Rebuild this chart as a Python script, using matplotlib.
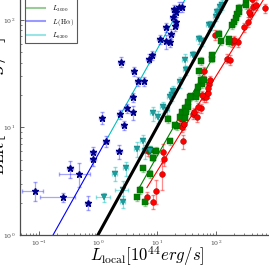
import numpy as np
import matplotlib.pyplot as plt

plt.rcParams['mathtext.fontset'] = 'cm'
plt.rcParams['font.family'] = 'serif'
plt.rcParams['font.serif'] = ['DejaVu Serif']

# log10 luminosities (1e44 erg/s)
# stars: L(Halpha)
star_lx = [-1.07, -0.59, -0.47, -0.32, -0.17, -0.08, -0.08, 0.14, 0.36, 0.07, 0.39, 0.37, 0.44,
           0.49, 0.59, 0.59, 0.61, 0.68, 0.78, 0.86, 0.92, 1.05, 1.15, 1.22, 1.15, 1.24, 1.27,
           1.32, 1.31, 1.29, 1.32, 1.37, 1.42]
star_ly = [0.41, 0.35, 0.62, 0.57, 0.30, 0.71, 0.77, 0.87, 0.78, 1.09, 1.61, 1.12, 1.02,
           1.18, 1.28, 1.14, 1.52, 1.43, 1.43, 1.64, 1.67, 1.82, 1.80, 1.79, 1.93, 1.87, 2.03,
           1.98, 1.94, 2.10, 2.07, 2.12, 2.12]
star_xe = [0.40, 0.60, 0.12, 0.55, 0.10, 0.12, 0.10, 0.10, 0.10, 0.10, 0.12, 0.10, 0.10,
           0.10, 0.10, 0.10, 0.10, 0.10, 0.10, 0.10, 0.10, 0.10, 0.10, 0.10, 0.10, 0.10, 0.10,
           0.10, 0.10, 0.10, 0.10, 0.10, 0.10]
star_ye = [0.20, 0.10, 0.18, 0.25, 0.15, 0.15, 0.12, 0.12, 0.15, 0.12, 0.10, 0.10, 0.10,
           0.10, 0.10, 0.15, 0.10, 0.10, 0.10, 0.10, 0.10, 0.10, 0.15, 0.10, 0.10, 0.10, 0.10,
           0.10, 0.10, 0.10, 0.10, 0.10, 0.10]

# triangles: L6200
tri_lx = [0.10, 0.29, 0.47, 0.42, 0.42, 0.76, 0.80, 0.88, 0.66, 0.93, 1.02, 1.10, 1.17, 1.22,
          1.25, 1.27, 1.39, 1.47, 1.61, 1.71, 1.76, 1.49, 1.88, 1.92, 2.00, 2.02, 2.07, 2.10]
tri_ly = [0.35, 0.57, 0.62, 0.42, 0.31, 0.87, 0.78, 0.78, 0.80, 1.13, 1.10, 1.19, 1.16, 1.28,
          1.30, 1.34, 1.42, 1.63, 1.67, 1.82, 1.80, 1.53, 1.95, 1.95, 2.03, 2.07, 2.12, 2.14]
tri_xe = [0.25, 0.10, 0.10, 0.25, 0.10, 0.10, 0.10, 0.10, 0.10, 0.10, 0.10, 0.10, 0.10, 0.10,
          0.10, 0.10, 0.10, 0.10, 0.10, 0.10, 0.10, 0.10, 0.10, 0.10, 0.10, 0.10, 0.10, 0.10]
tri_ye = [0.10, 0.15, 0.15, 0.20, 0.12, 0.15, 0.15, 0.12, 0.15, 0.15, 0.12, 0.12, 0.12, 0.12,
          0.12, 0.12, 0.12, 0.12, 0.10, 0.10, 0.10, 0.10, 0.10, 0.10, 0.10, 0.10, 0.10, 0.10]

# squares: L3000
sq_lx = [0.66, 0.71, 0.80, 0.76, 0.88, 0.93, 0.98, 0.88, 1.22, 1.19, 1.34, 1.39, 1.42, 1.31,
         1.47, 1.47, 1.53, 1.53, 1.49, 1.58, 1.66, 1.68, 1.56, 1.76, 1.75, 1.80, 1.69, 1.71,
         1.75, 1.93, 1.93, 2.05, 2.08, 2.22, 2.22, 2.27, 2.31, 2.34, 2.36, 2.39, 2.39, 2.51, 2.51]
sq_ly = [0.35, 0.42, 0.31, 0.62, 0.57, 0.72, 0.78, 0.79, 0.87, 1.08, 1.01, 1.10, 1.14, 1.02,
         1.09, 1.18, 1.19, 1.24, 1.14, 1.29, 1.28, 1.32, 1.28, 1.40, 1.44, 1.44, 1.38, 1.52,
         1.62, 1.64, 1.67, 1.87, 1.80, 1.79, 1.82, 1.95, 1.98, 2.02, 2.05, 2.07, 2.11, 2.14, 2.19]

# circles: L1400
circ_lx = [0.83, 0.93, 0.98, 1.08, 1.10, 1.12, 1.44, 1.42, 1.39, 1.44, 1.42, 1.46, 1.61, 1.68,
           1.63, 1.75, 1.69, 1.80, 1.83, 1.86, 1.76, 1.88, 1.86, 1.90, 1.80, 1.98, 2.19, 2.24,
           2.27, 2.37, 2.31, 2.47, 2.54, 2.58, 2.56, 2.63, 2.83, 2.68, 2.61, 0.85]
circ_ly = [0.35, 0.31, 0.41, 0.57, 0.77, 0.71, 0.87, 1.08, 1.09, 1.02, 1.00, 1.03, 1.12, 1.10,
           1.14, 1.18, 1.19, 1.28, 1.28, 1.32, 1.30, 1.40, 1.37, 1.44, 1.52, 1.86, 1.64, 1.63,
           1.79, 1.79, 1.81, 1.93, 1.98, 2.05, 2.07, 2.12, 2.11, 2.14, 2.19, 0.78]
circ_ye = [0.12, 0.15, 0.25, 0.30, 0.20, 0.15, 0.15, 0.10, 0.10, 0.10, 0.10, 0.10, 0.10, 0.10,
           0.10, 0.10, 0.10, 0.10, 0.10, 0.10, 0.10, 0.10, 0.10, 0.10, 0.10, 0.10, 0.10, 0.10,
           0.10, 0.10, 0.10, 0.10, 0.10, 0.10, 0.10, 0.10, 0.10, 0.10, 0.10, 0.10]

# fitted relations: (log x start, log x end, log y at start, slope)
fit_halpha = (-0.76, 0.14, 0.0, 0.98)
fit_6200 = (0.14, 1.60, 0.88, 0.98)
fit_3000 = (0.68, 2.60, 0.42, 0.97)
fit_1400 = (0.83, 2.90, 0.44, 0.885)


def lin(lx, ly, xe=None, ye=None):
    x = 10 ** np.array(lx)
    y = 10 ** np.array(ly)
    xerr = None if xe is None else x * np.array(xe)
    yerr = None if ye is None else y * np.array(ye)
    return x, y, xerr, yerr


def fit_line(ax, fit, color):
    x0, x1, y0, s = fit
    lx = np.array([x0, x1])
    ax.plot(10 ** lx, 10 ** (y0 + s * (lx - x0)), color=color, lw=0.8, zorder=1)


fig = plt.figure(figsize=(2.69, 2.69), dpi=100)
ax = fig.add_axes([20 / 269, 34 / 269, 255 / 269, 269 / 269])
ax.set_xscale('log')
ax.set_yscale('log')
ax.set_xlim(10 ** -1.32, 10 ** 3.0)
ax.set_ylim(1, 10 ** 2.5)

# one-to-one line
xx = np.array([1.0, 1000.0])
ax.plot(xx, xx, color='black', lw=2.2, zorder=4)

fit_line(ax, fit_halpha, 'blue')
fit_line(ax, fit_6200, 'c')
fit_line(ax, fit_3000, 'green')
fit_line(ax, fit_1400, 'red')

x, y, xe, ye = lin(circ_lx, circ_ly, None, circ_ye)
ax.errorbar(x, y, yerr=ye, fmt='none', ecolor='red', alpha=0.45, elinewidth=0.9, capsize=1.5, zorder=2)
ax.plot(x, y, 'o', color='red', mec='darkred', mew=0.3, ms=4.2, ls='none', zorder=3)

x, y, xe, ye = lin(sq_lx, sq_ly, None, None)
ax.errorbar(x, y, xerr=x * 0.08, yerr=y * 0.08, fmt='none', ecolor='green', alpha=0.35, elinewidth=0.9,
            capsize=1.5, zorder=2)
ax.plot(x, y, 's', color='green', mec='darkgreen', mew=0.3, ms=4.2, ls='none', zorder=3)

x, y, xe, ye = lin(tri_lx, tri_ly, tri_xe, tri_ye)
ax.errorbar(x, y, xerr=xe, yerr=ye, fmt='none', ecolor='c', alpha=0.45, elinewidth=0.9, capsize=1.5, zorder=2)
ax.plot(x, y, 'v', color='#1a9f9f', mec='#0d6f6f', mew=0.3, ms=4.5, ls='none', zorder=3)

x, y, xe, ye = lin(star_lx, star_ly, star_xe, star_ye)
ax.errorbar(x, y, xerr=xe, yerr=ye, fmt='none', ecolor='blue', alpha=0.35, elinewidth=0.9, capsize=1.5, zorder=2)
ax.plot(x, y, '*', color='darkblue', mec='darkblue', ms=4.5, ls='none', zorder=3)

# legend uses the fit colours
h1, = ax.plot([], [], color='red', alpha=0.4, lw=1.5)
h2, = ax.plot([], [], color='green', alpha=0.4, lw=1.5)
h3, = ax.plot([], [], color='blue', alpha=0.4, lw=1.5)
h4, = ax.plot([], [], color='c', alpha=0.4, lw=1.5)
leg = ax.legend([h1, h2, h3, h4], [r'$L_{1400}$', r'$L_{3000}$', r'$L\,(\mathrm{H}\alpha)$', r'$L_{6200}$'],
                loc='lower left', bbox_to_anchor=(25 / 269, (269 - 43) / 269), bbox_transform=fig.transFigure,
                fontsize=5, fancybox=False, borderaxespad=0, handlelength=2.6, handletextpad=1.0,
                labelspacing=0.4, borderpad=0.35, framealpha=1)
leg.get_frame().set_edgecolor('0.35')
leg.get_frame().set_linewidth(0.8)

ax.tick_params(which='both', direction='in', top=True, right=True, labelsize=4.5, colors='0.3')
ax.tick_params(which='major', length=3, width=0.6)
ax.tick_params(which='minor', length=1.5, width=0.5)
ax.tick_params(axis='x', pad=2.5)
for sp in ax.spines.values():
    sp.set_color('0.3')
    sp.set_linewidth(0.9)

ax.set_xlabel(r'$L_{\rm local}[10^{44}erg/s]$', fontsize=12)
ax.xaxis.set_label_coords(0.5, -0.034)
ax.set_ylabel(r'$L_{\rm BLR}[10^{44}erg/s]$', fontsize=16)
ax.yaxis.set_label_coords(-0.038, 0.45)

fig.savefig('out.png', dpi=100)
